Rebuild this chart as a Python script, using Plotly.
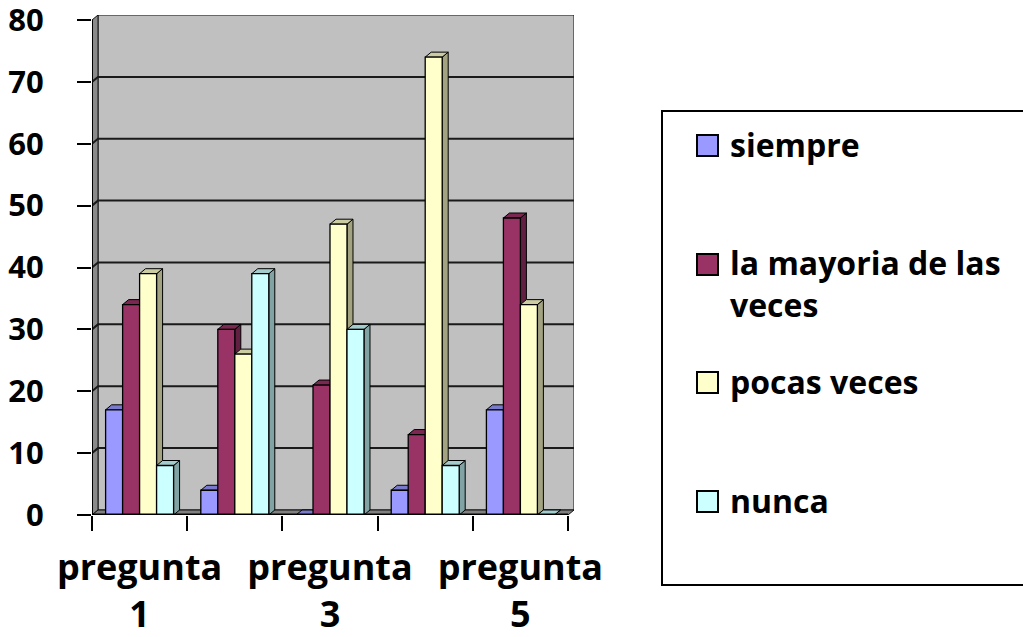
import textwrap
import plotly.graph_objects as go

# ---------------- data ----------------
categories = ["pregunta 1", "pregunta 2", "pregunta 3", "pregunta 4", "pregunta 5"]
labelled_categories = ["pregunta 1", "pregunta 3", "pregunta 5"]
series_names = ["siempre", "la mayoria de las veces", "pocas veces", "nunca"]
siempre = [17, 4, 0, 4, 17]
mayoria = [34, 30, 21, 13, 48]
pocas = [39, 26, 47, 74, 34]
nunca = [8, 39, 30, 8, 0]
y_ticks = [0, 10, 20, 30, 40, 50, 60, 70, 80]

series_values = [siempre, mayoria, pocas, nunca]
front_colors = ["#9999FF", "#993366", "#FFFFCC", "#CCFFFF"]

# ---------------- geometry ----------------
W, H = 1023, 637
PLOT_L, PLOT_R_FRONT = 92, 568
PLOT_T_FRONT, PLOT_B = 20, 515
DX, DY = 6, 5                      # pixel depth of the pseudo-3D effect
n_cat = len(categories)
y_max = y_ticks[-1]
px_per_x = (PLOT_R_FRONT - PLOT_L) / n_cat
px_per_y = (PLOT_B - PLOT_T_FRONT) / y_max
dxu = DX / px_per_x
dyu = DY / px_per_y
x_lo, x_hi = 0.5, n_cat + 0.5

margin = dict(l=PLOT_L, r=W - (PLOT_R_FRONT + DX), t=PLOT_T_FRONT - DY, b=H - PLOT_B)
plot_w = W - margin["l"] - margin["r"]
plot_h = H - margin["t"] - margin["b"]


def paper_x(px):
    return (px - margin["l"]) / plot_w


def paper_y(py):
    return (H - margin["b"] - py) / plot_h


def shade(hex_color, f):
    h = hex_color.lstrip("#")
    r, g, b = (int(h[i:i + 2], 16) for i in (0, 2, 4))
    return "#%02X%02X%02X" % (int(r * f), int(g * f), int(b * f))


def poly(pts):
    return "M " + " L ".join(f"{x},{y}" for x, y in pts) + " Z"


group_w = 0.714
n_series = len(series_names)
bar_w = group_w / n_series
x_pos = list(range(1, n_cat + 1))

fig = go.Figure()
shapes = []

# back wall, left wall, floor
shapes.append(dict(type="rect", xref="x", yref="y", x0=x_lo + dxu, x1=x_hi + dxu, y0=dyu, y1=y_max + dyu,
                   fillcolor="#C0C0C0", line=dict(color="#111111", width=1), layer="below"))
shapes.append(dict(type="path", xref="x", yref="y",
                   path=poly([(x_lo, 0), (x_lo + dxu, dyu), (x_lo + dxu, y_max + dyu), (x_lo, y_max)]),
                   fillcolor="#8A8A8A", line=dict(color="#111111", width=1), layer="below"))
shapes.append(dict(type="path", xref="x", yref="y",
                   path=poly([(x_lo, 0), (x_hi, 0), (x_hi + dxu, dyu), (x_lo + dxu, dyu)]),
                   fillcolor="#808080", line=dict(color="#111111", width=1), layer="below"))
# back-wall gridlines
for t in y_ticks[1:-1]:
    shapes.append(dict(type="path", xref="x", yref="y",
                       path=f"M {x_lo},{t} L {x_lo + dxu},{t + dyu} L {x_hi + dxu},{t + dyu}",
                       line=dict(color="#1A1A1A", width=2), layer="below"))

# bars (front faces as traces, side/top faces as shapes)
for k, (name, vals, col) in enumerate(zip(series_names, series_values, front_colors)):
    off = -group_w / 2 + k * bar_w
    fig.add_trace(go.Bar(
        x=x_pos, y=vals, name=name, width=bar_w, offset=off,
        marker=dict(color=col, line=dict(color="#000000", width=1.3)),
        showlegend=False, hovertemplate=name + ": %{y}<extra></extra>",
    ))

for i in range(n_cat):
    for k in range(n_series):
        v = series_values[k][i]
        col = front_colors[k]
        x0 = x_pos[i] - group_w / 2 + k * bar_w
        x1 = x0 + bar_w
        shapes.append(dict(type="path", xref="x", yref="y",
                           path=poly([(x1, 0), (x1 + dxu, dyu), (x1 + dxu, v + dyu), (x1, v)]),
                           fillcolor=shade(col, 0.64), line=dict(color="#000000", width=1), layer="between"))
        shapes.append(dict(type="path", xref="x", yref="y",
                           path=poly([(x0, v), (x1, v), (x1 + dxu, v + dyu), (x0 + dxu, v + dyu)]),
                           fillcolor=shade(col, 0.8), line=dict(color="#000000", width=1), layer="between"))

# front axis lines
shapes.append(dict(type="line", xref="x", yref="y", x0=x_lo, x1=x_hi, y0=0, y1=0,
                   line=dict(color="#000000", width=3), layer="above"))
shapes.append(dict(type="line", xref="x", yref="y", x0=x_lo, x1=x_lo, y0=0, y1=y_max,
                   line=dict(color="#000000", width=2), layer="above"))

# ---------------- legend (drawn manually to match Excel spacing) ----------------
LEG_FS = 32
legend_centers = [146, 265, 383, 502]
shapes.append(dict(type="rect", xref="paper", yref="paper",
                   x0=paper_x(662), x1=paper_x(1040), y0=paper_y(585), y1=paper_y(111),
                   fillcolor="white", line=dict(color="#000000", width=2), layer="below"))
annotations = []
for name, col, cy in zip(series_names, front_colors, legend_centers):
    shapes.append(dict(type="rect", xref="paper", yref="paper",
                       x0=paper_x(697), x1=paper_x(718), y0=paper_y(cy + 10), y1=paper_y(cy - 11),
                       fillcolor=col, line=dict(color="#000000", width=2), layer="above"))
    lines = textwrap.wrap(name, 17)
    center = cy + (len(lines) - 1) * 0.65 * LEG_FS
    annotations.append(dict(xref="paper", yref="paper", x=paper_x(728), y=paper_y(center - 2),
                            xanchor="left", yanchor="middle", align="left", showarrow=False,
                            text="<br>".join(lines),
                            font=dict(family="Open Sans", size=LEG_FS, color="#000000", weight="bold")))

tick_text = [c.replace(" ", "<br>") for c in labelled_categories]
tick_pos = [x_pos[categories.index(c)] for c in labelled_categories]
boundaries = [x + 0.5 for x in range(0, n_cat + 1)]

fig.update_layout(
    width=W, height=H,
    margin=margin,
    paper_bgcolor="white", plot_bgcolor="white",
    barmode="overlay",
    shapes=shapes, annotations=annotations,
    showlegend=False,
    xaxis=dict(range=[x_lo, x_hi + dxu], showgrid=False, zeroline=False, showline=False,
               automargin=False,
               tickmode="array", tickvals=tick_pos, ticktext=tick_text, ticks="",
               ticklabelstandoff=28, ticklabeloverflow="allow",
               tickfont=dict(family="Open Sans", size=36, color="#000000", weight="bold"),
               minor=dict(tickmode="array", tickvals=boundaries, ticks="outside", ticklen=15,
                          tickwidth=2, tickcolor="#000000", showgrid=False),
               fixedrange=True),
    yaxis=dict(range=[0, y_max + dyu], showgrid=False, zeroline=False, showline=False,
               automargin=False,
               tickmode="array", tickvals=y_ticks, ticktext=[str(t) for t in y_ticks],
               ticks="outside", ticklen=14, tickwidth=2,
               tickcolor="#000000", ticklabelstandoff=27, ticklabeloverflow="allow",
               tickfont=dict(family="Open Sans", size=31, color="#000000", weight="bold"),
               fixedrange=True),
)

fig.write_html("out.html", config={"displayModeBar": False},
               post_script="document.body.style.margin='0';document.body.style.overflow='hidden';")
